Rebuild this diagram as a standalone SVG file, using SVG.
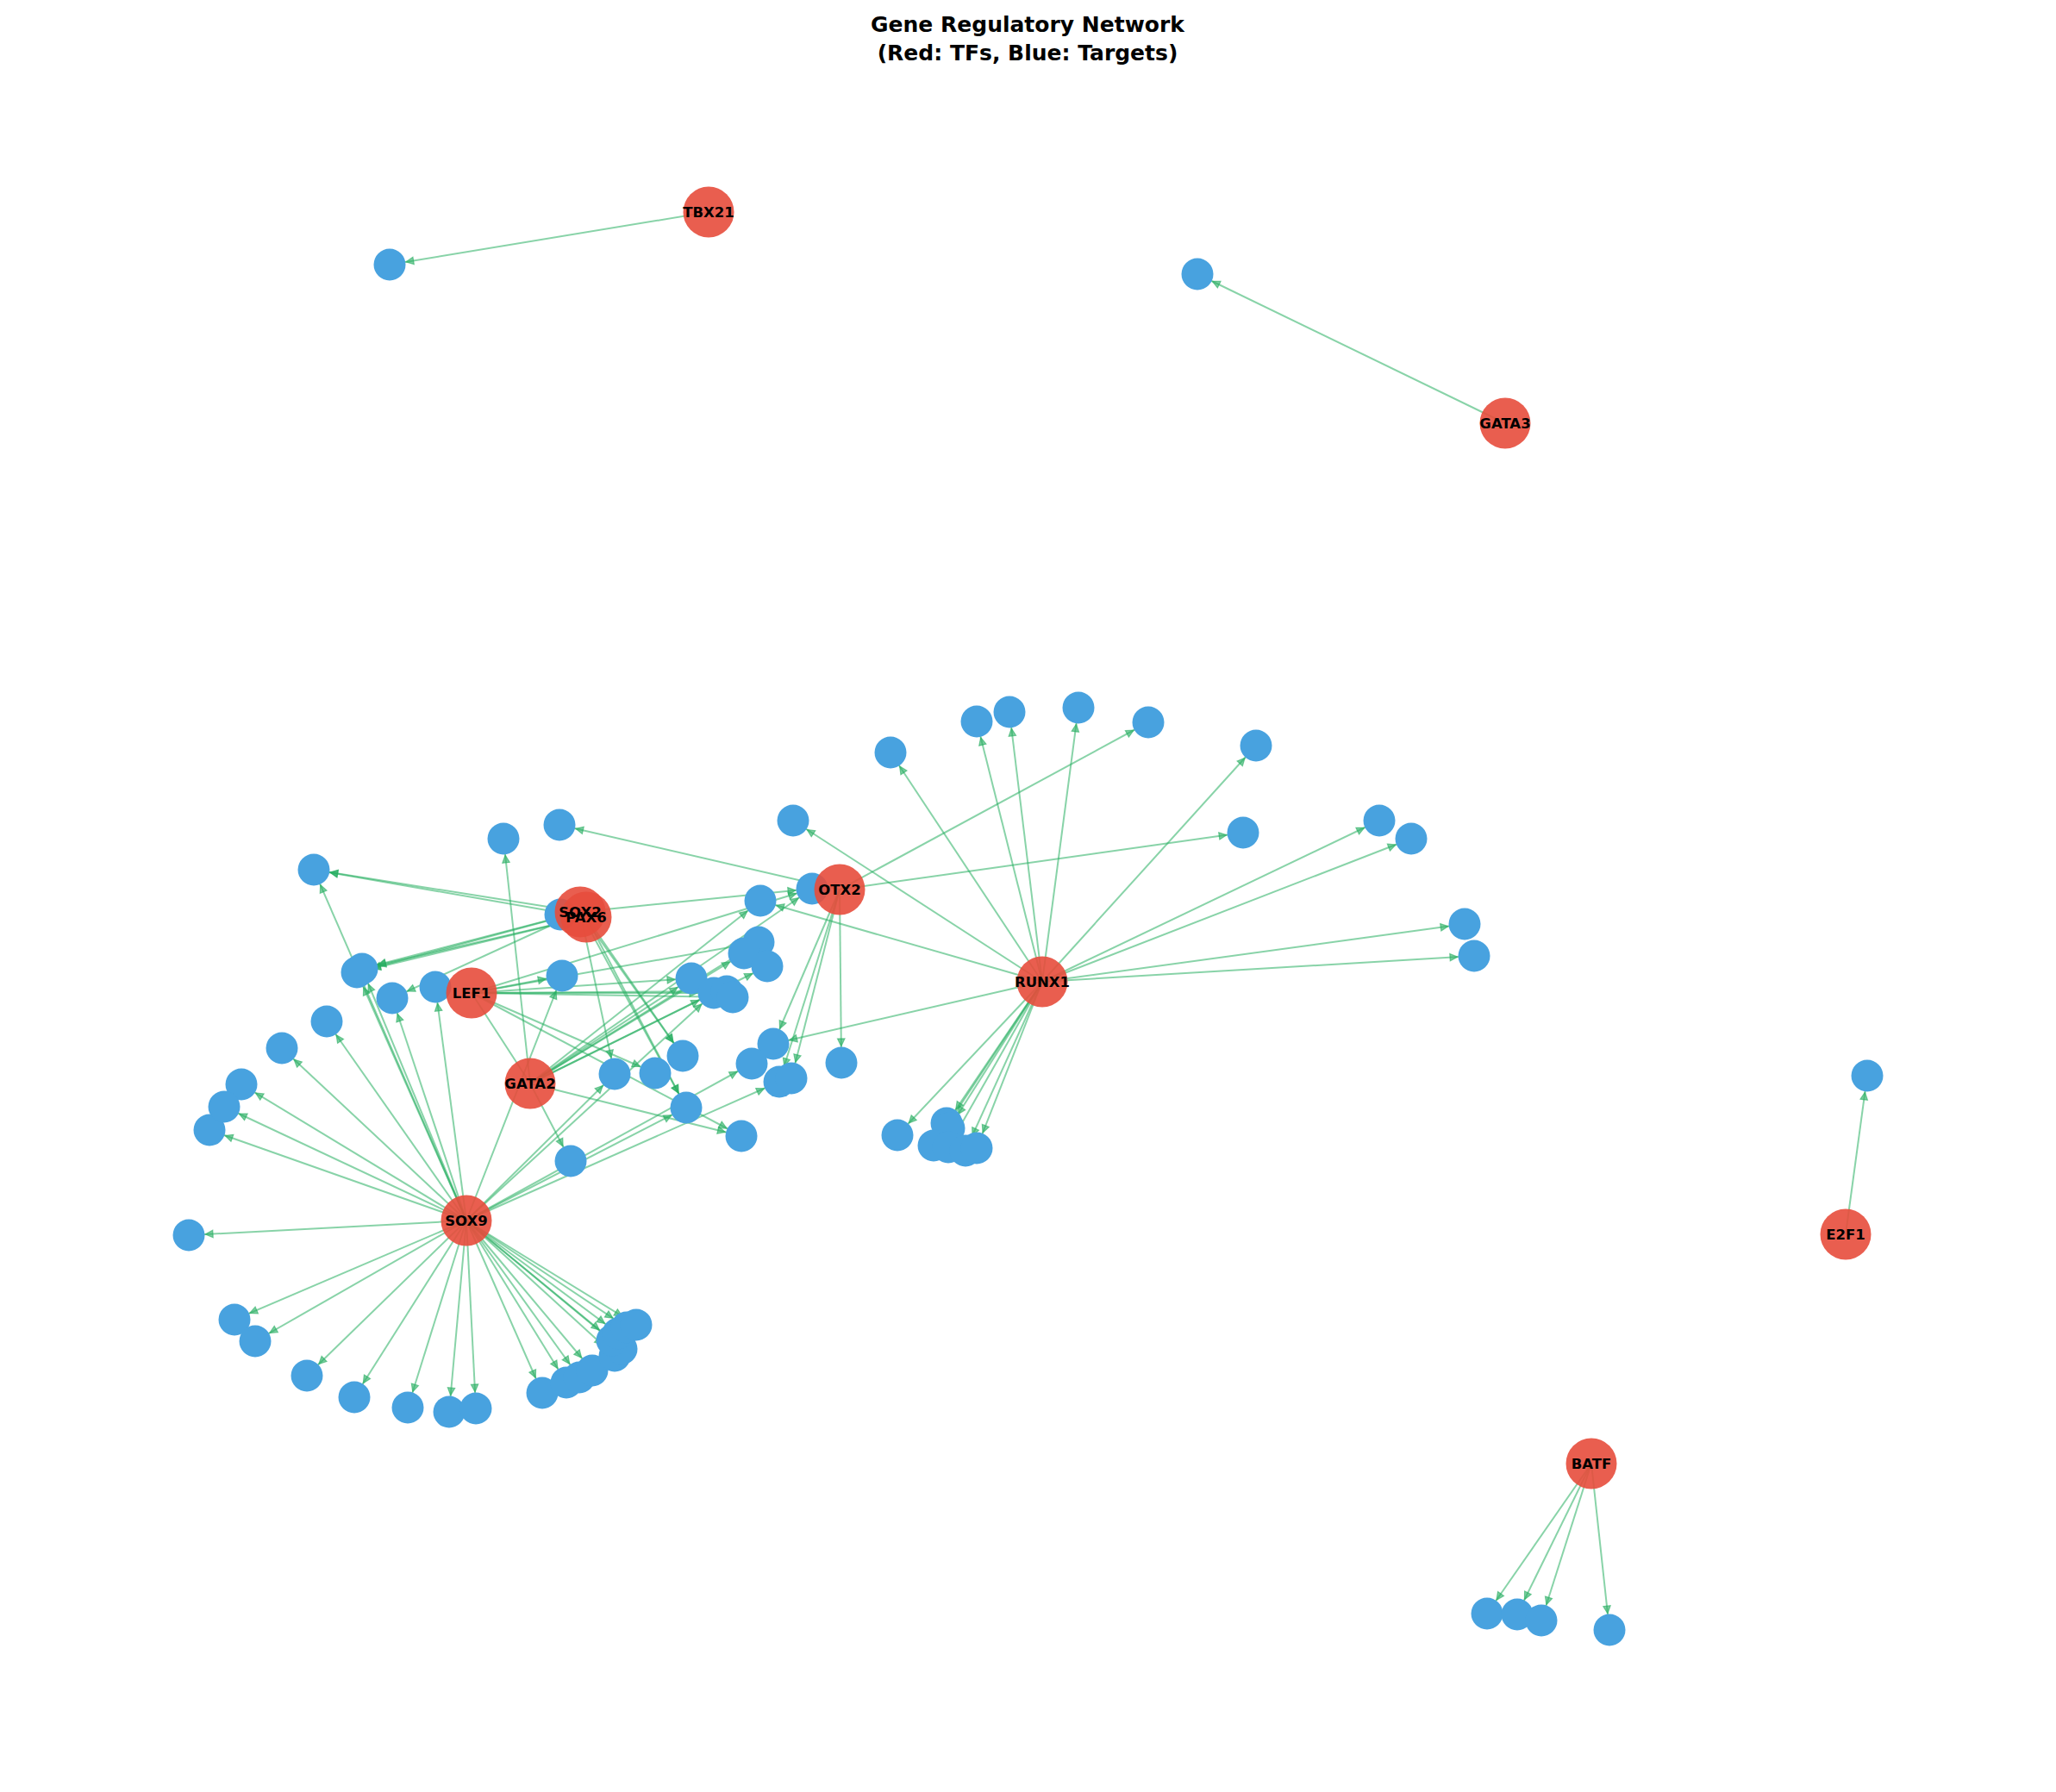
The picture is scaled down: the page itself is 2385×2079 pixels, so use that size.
<svg xmlns="http://www.w3.org/2000/svg" width="2385" height="2079" viewBox="0 0 2385 2079">
<style>
.e{stroke:#27ae60;stroke-opacity:0.55;stroke-width:2;fill:none;marker-end:url(#ah)}
.p{stroke:#27ae60;stroke-opacity:0.55;stroke-width:2;fill:none}
.t{fill:#48a2df}
.tf{fill:#e74c3c;fill-opacity:0.9}
.lb{font-family:'DejaVu Sans','Liberation Sans',sans-serif;font-weight:bold;font-size:16.5px;text-anchor:middle;fill:#000}
.ti{font-family:'DejaVu Sans','Liberation Sans',sans-serif;font-weight:bold;font-size:25px;text-anchor:middle;fill:#000}
</style>
<defs>
<marker id="ah" markerUnits="userSpaceOnUse" viewBox="0 -6 40 12" markerWidth="40" markerHeight="12" refX="28" refY="0" orient="auto" overflow="visible">
<path d="M0,-4.2 L8.8,0 L0,4.2 Z" fill="#27ae60" fill-opacity="0.6" stroke="#27ae60" stroke-opacity="0.6" stroke-width="1.2"/>
</marker>
</defs>
<rect width="2385" height="2079" fill="#fff"/>
<g id="title">
<text class="ti" x="1192" y="37">Gene Regulatory Network</text>
<text class="ti" x="1192" y="70">(Red: TFs, Blue: Targets)</text>
</g>
<g id="edges">
<line class="e" x1="822" y1="246" x2="452" y2="307"/>
<line class="e" x1="1746" y1="491" x2="1389" y2="318"/>
<line class="e" x1="2141" y1="1432" x2="2166" y2="1248"/>
<line class="e" x1="1846" y1="1698" x2="1725" y2="1872"/>
<line class="e" x1="1846" y1="1698" x2="1760" y2="1873"/>
<line class="e" x1="1846" y1="1698" x2="1788" y2="1880"/>
<line class="e" x1="1846" y1="1698" x2="1867" y2="1891"/>
<line class="e" x1="1209" y1="1139" x2="1033" y2="873"/>
<line class="e" x1="1209" y1="1139" x2="1133" y2="837"/>
<line class="e" x1="1209" y1="1139" x2="1171" y2="826"/>
<line class="e" x1="1209" y1="1139" x2="1251" y2="821"/>
<line class="e" x1="1209" y1="1139" x2="1457" y2="865"/>
<line class="e" x1="1209" y1="1139" x2="1600" y2="952"/>
<line class="e" x1="1209" y1="1139" x2="1637" y2="973"/>
<line class="e" x1="1209" y1="1139" x2="1699" y2="1072"/>
<line class="e" x1="1209" y1="1139" x2="1710" y2="1109"/>
<line class="e" x1="1209" y1="1139" x2="920" y2="952"/>
<line class="e" x1="1209" y1="1139" x2="882" y2="1045"/>
<line class="e" x1="1209" y1="1139" x2="897" y2="1211"/>
<line class="e" x1="1209" y1="1139" x2="1041" y2="1317"/>
<line class="e" x1="1209" y1="1139" x2="1098" y2="1303"/>
<line class="e" x1="1209" y1="1139" x2="1101" y2="1309"/>
<line class="e" x1="1209" y1="1139" x2="1083" y2="1329"/>
<line class="e" x1="1209" y1="1139" x2="1100" y2="1331"/>
<line class="e" x1="1209" y1="1139" x2="1120" y2="1335"/>
<line class="e" x1="1209" y1="1139" x2="1133" y2="1332"/>
<line class="e" x1="974" y1="1032" x2="649" y2="957"/>
<line class="e" x1="974" y1="1032" x2="1332" y2="838"/>
<line class="e" x1="974" y1="1032" x2="1442" y2="966"/>
<line class="e" x1="974" y1="1032" x2="976" y2="1233"/>
<line class="e" x1="974" y1="1032" x2="904" y2="1255"/>
<line class="e" x1="974" y1="1032" x2="918" y2="1251"/>
<line class="e" x1="974" y1="1032" x2="897" y2="1211"/>
<line class="e" x1="673" y1="1058" x2="364" y2="1009"/>
<line class="e" x1="673" y1="1058" x2="414" y2="1128"/>
<line class="e" x1="673" y1="1058" x2="420" y2="1124"/>
<line class="e" x1="673" y1="1058" x2="455" y2="1158"/>
<line class="e" x1="673" y1="1058" x2="942" y2="1031"/>
<line class="e" x1="673" y1="1058" x2="713" y2="1246"/>
<line class="e" x1="673" y1="1058" x2="792" y2="1225"/>
<line class="e" x1="673" y1="1058" x2="796" y2="1285"/>
<line class="e" x1="680" y1="1064" x2="364" y2="1009"/>
<line class="e" x1="680" y1="1064" x2="414" y2="1128"/>
<line class="e" x1="680" y1="1064" x2="420" y2="1124"/>
<line class="e" x1="680" y1="1064" x2="796" y2="1285"/>
<line class="e" x1="680" y1="1064" x2="792" y2="1225"/>
<line class="e" x1="547" y1="1152" x2="652" y2="1132"/>
<line class="e" x1="547" y1="1152" x2="802" y2="1135"/>
<line class="e" x1="547" y1="1152" x2="828" y2="1152"/>
<line class="e" x1="547" y1="1152" x2="843" y2="1150"/>
<line class="e" x1="547" y1="1152" x2="850" y2="1157"/>
<line class="e" x1="547" y1="1152" x2="880" y2="1093"/>
<line class="e" x1="547" y1="1152" x2="942" y2="1031"/>
<line class="e" x1="547" y1="1152" x2="760" y2="1245"/>
<line class="e" x1="547" y1="1152" x2="860" y2="1318"/>
<line class="p" x1="547" y1="1152" x2="615" y2="1257"/>
<line class="e" x1="615" y1="1257" x2="584" y2="973"/>
<line class="e" x1="615" y1="1257" x2="662" y2="1347"/>
<line class="e" x1="615" y1="1257" x2="860" y2="1318"/>
<line class="e" x1="615" y1="1257" x2="802" y2="1135"/>
<line class="e" x1="615" y1="1257" x2="828" y2="1152"/>
<line class="e" x1="615" y1="1257" x2="863" y2="1106"/>
<line class="e" x1="615" y1="1257" x2="880" y2="1093"/>
<line class="e" x1="615" y1="1257" x2="890" y2="1121"/>
<line class="e" x1="615" y1="1257" x2="882" y2="1045"/>
<line class="e" x1="615" y1="1257" x2="942" y2="1031"/>
<line class="e" x1="541" y1="1416" x2="364" y2="1009"/>
<line class="e" x1="541" y1="1416" x2="414" y2="1128"/>
<line class="e" x1="541" y1="1416" x2="420" y2="1124"/>
<line class="e" x1="541" y1="1416" x2="455" y2="1158"/>
<line class="e" x1="541" y1="1416" x2="505" y2="1145"/>
<line class="e" x1="541" y1="1416" x2="379" y2="1185"/>
<line class="e" x1="541" y1="1416" x2="327" y2="1216"/>
<line class="e" x1="541" y1="1416" x2="280" y2="1258"/>
<line class="e" x1="541" y1="1416" x2="260" y2="1284"/>
<line class="e" x1="541" y1="1416" x2="243" y2="1311"/>
<line class="e" x1="541" y1="1416" x2="219" y2="1433"/>
<line class="e" x1="541" y1="1416" x2="272" y2="1531"/>
<line class="e" x1="541" y1="1416" x2="296" y2="1556"/>
<line class="e" x1="541" y1="1416" x2="356" y2="1596"/>
<line class="e" x1="541" y1="1416" x2="411" y2="1621"/>
<line class="e" x1="541" y1="1416" x2="473" y2="1633"/>
<line class="e" x1="541" y1="1416" x2="521" y2="1638"/>
<line class="e" x1="541" y1="1416" x2="552" y2="1634"/>
<line class="e" x1="541" y1="1416" x2="629" y2="1616"/>
<line class="e" x1="541" y1="1416" x2="657" y2="1604"/>
<line class="e" x1="541" y1="1416" x2="672" y2="1598"/>
<line class="e" x1="541" y1="1416" x2="687" y2="1590"/>
<line class="e" x1="541" y1="1416" x2="713" y2="1573"/>
<line class="e" x1="541" y1="1416" x2="721" y2="1565"/>
<line class="e" x1="541" y1="1416" x2="710" y2="1555"/>
<line class="e" x1="541" y1="1416" x2="717" y2="1547"/>
<line class="e" x1="541" y1="1416" x2="727" y2="1540"/>
<line class="e" x1="541" y1="1416" x2="738" y2="1537"/>
<line class="e" x1="541" y1="1416" x2="713" y2="1246"/>
<line class="e" x1="541" y1="1416" x2="796" y2="1285"/>
<line class="e" x1="541" y1="1416" x2="872" y2="1234"/>
<line class="e" x1="541" y1="1416" x2="904" y2="1255"/>
<line class="e" x1="541" y1="1416" x2="652" y2="1132"/>
<line class="e" x1="541" y1="1416" x2="828" y2="1152"/>
</g>
<g id="targets">
<g id="t1"><circle class="t" cx="452" cy="307" r="18.5"/></g>
<g id="t2"><circle class="t" cx="1389" cy="318" r="18.5"/></g>
<g id="t3"><circle class="t" cx="2166" cy="1248" r="18.5"/></g>
<g id="t4"><circle class="t" cx="1725" cy="1872" r="18.5"/></g>
<g id="t5"><circle class="t" cx="1760" cy="1873" r="18.5"/></g>
<g id="t6"><circle class="t" cx="1788" cy="1880" r="18.5"/></g>
<g id="t7"><circle class="t" cx="1867" cy="1891" r="18.5"/></g>
<g id="t8"><circle class="t" cx="1033" cy="873" r="18.5"/></g>
<g id="t9"><circle class="t" cx="1133" cy="837" r="18.5"/></g>
<g id="t10"><circle class="t" cx="1171" cy="826" r="18.5"/></g>
<g id="t11"><circle class="t" cx="1251" cy="821" r="18.5"/></g>
<g id="t12"><circle class="t" cx="1457" cy="865" r="18.5"/></g>
<g id="t13"><circle class="t" cx="1600" cy="952" r="18.5"/></g>
<g id="t14"><circle class="t" cx="1637" cy="973" r="18.5"/></g>
<g id="t15"><circle class="t" cx="1699" cy="1072" r="18.5"/></g>
<g id="t16"><circle class="t" cx="1710" cy="1109" r="18.5"/></g>
<g id="t17"><circle class="t" cx="920" cy="952" r="18.5"/></g>
<g id="t18"><circle class="t" cx="882" cy="1045" r="18.5"/></g>
<g id="t19"><circle class="t" cx="897" cy="1211" r="18.5"/></g>
<g id="t20"><circle class="t" cx="1041" cy="1317" r="18.5"/></g>
<g id="t21"><circle class="t" cx="1098" cy="1303" r="18.5"/></g>
<g id="t22"><circle class="t" cx="1101" cy="1309" r="18.5"/></g>
<g id="t23"><circle class="t" cx="1083" cy="1329" r="18.5"/></g>
<g id="t24"><circle class="t" cx="1100" cy="1331" r="18.5"/></g>
<g id="t25"><circle class="t" cx="1120" cy="1335" r="18.5"/></g>
<g id="t26"><circle class="t" cx="1133" cy="1332" r="18.5"/></g>
<g id="t27"><circle class="t" cx="649" cy="957" r="18.5"/></g>
<g id="t28"><circle class="t" cx="1332" cy="838" r="18.5"/></g>
<g id="t29"><circle class="t" cx="1442" cy="966" r="18.5"/></g>
<g id="t30"><circle class="t" cx="976" cy="1233" r="18.5"/></g>
<g id="t31"><circle class="t" cx="904" cy="1255" r="18.5"/></g>
<g id="t32"><circle class="t" cx="918" cy="1251" r="18.5"/></g>
<g id="t33"><circle class="t" cx="942" cy="1031" r="18.5"/></g>
<g id="t34"><circle class="t" cx="364" cy="1009" r="18.5"/></g>
<g id="t35"><circle class="t" cx="584" cy="973" r="18.5"/></g>
<g id="t36"><circle class="t" cx="414" cy="1128" r="18.5"/></g>
<g id="t37"><circle class="t" cx="420" cy="1124" r="18.5"/></g>
<g id="t38"><circle class="t" cx="455" cy="1158" r="18.5"/></g>
<g id="t39"><circle class="t" cx="505" cy="1145" r="18.5"/></g>
<g id="t40"><circle class="t" cx="652" cy="1132" r="18.5"/></g>
<g id="t41"><circle class="t" cx="379" cy="1185" r="18.5"/></g>
<g id="t42"><circle class="t" cx="327" cy="1216" r="18.5"/></g>
<g id="t43"><circle class="t" cx="713" cy="1246" r="18.5"/></g>
<g id="t44"><circle class="t" cx="760" cy="1245" r="18.5"/></g>
<g id="t45"><circle class="t" cx="792" cy="1225" r="18.5"/></g>
<g id="t46"><circle class="t" cx="796" cy="1285" r="18.5"/></g>
<g id="t47"><circle class="t" cx="662" cy="1347" r="18.5"/></g>
<g id="t48"><circle class="t" cx="860" cy="1318" r="18.5"/></g>
<g id="t49"><circle class="t" cx="802" cy="1135" r="18.5"/></g>
<g id="t50"><circle class="t" cx="828" cy="1152" r="18.5"/></g>
<g id="t51"><circle class="t" cx="843" cy="1150" r="18.5"/></g>
<g id="t52"><circle class="t" cx="850" cy="1157" r="18.5"/></g>
<g id="t53"><circle class="t" cx="880" cy="1093" r="18.5"/></g>
<g id="t54"><circle class="t" cx="863" cy="1106" r="18.5"/></g>
<g id="t55"><circle class="t" cx="890" cy="1121" r="18.5"/></g>
<g id="t56"><circle class="t" cx="872" cy="1234" r="18.5"/></g>
<g id="t57"><circle class="t" cx="243" cy="1311" r="18.5"/></g>
<g id="t58"><circle class="t" cx="219" cy="1433" r="18.5"/></g>
<g id="t59"><circle class="t" cx="272" cy="1531" r="18.5"/></g>
<g id="t60"><circle class="t" cx="296" cy="1556" r="18.5"/></g>
<g id="t61"><circle class="t" cx="356" cy="1596" r="18.5"/></g>
<g id="t62"><circle class="t" cx="411" cy="1621" r="18.5"/></g>
<g id="t63"><circle class="t" cx="473" cy="1633" r="18.5"/></g>
<g id="t64"><circle class="t" cx="521" cy="1638" r="18.5"/></g>
<g id="t65"><circle class="t" cx="552" cy="1634" r="18.5"/></g>
<g id="t66"><circle class="t" cx="629" cy="1616" r="18.5"/></g>
<g id="t67"><circle class="t" cx="657" cy="1604" r="18.5"/></g>
<g id="t68"><circle class="t" cx="672" cy="1598" r="18.5"/></g>
<g id="t69"><circle class="t" cx="687" cy="1590" r="18.5"/></g>
<g id="t70"><circle class="t" cx="713" cy="1573" r="18.5"/></g>
<g id="t71"><circle class="t" cx="721" cy="1565" r="18.5"/></g>
<g id="t72"><circle class="t" cx="710" cy="1555" r="18.5"/></g>
<g id="t73"><circle class="t" cx="717" cy="1547" r="18.5"/></g>
<g id="t74"><circle class="t" cx="727" cy="1540" r="18.5"/></g>
<g id="t75"><circle class="t" cx="738" cy="1537" r="18.5"/></g>
<g id="t76"><circle class="t" cx="280" cy="1258" r="18.5"/></g>
<g id="t77"><circle class="t" cx="260" cy="1284" r="18.5"/></g>
<g id="t78"><circle class="t" cx="650" cy="1061" r="18.5"/></g>
</g>
<g id="tfs">
<g id="TBX21"><circle class="tf" cx="822" cy="246" r="29.5"/></g>
<g id="GATA3"><circle class="tf" cx="1746" cy="491" r="29.5"/></g>
<g id="SOX2"><circle class="tf" cx="673" cy="1058" r="29.5"/></g>
<g id="PAX6"><circle class="tf" cx="680" cy="1064" r="29.5"/></g>
<g id="LEF1"><circle class="tf" cx="547" cy="1152" r="29.5"/></g>
<g id="GATA2"><circle class="tf" cx="615" cy="1257" r="29.5"/></g>
<g id="OTX2"><circle class="tf" cx="974" cy="1032" r="29.5"/></g>
<g id="RUNX1"><circle class="tf" cx="1209" cy="1139" r="29.5"/></g>
<g id="SOX9"><circle class="tf" cx="541" cy="1416" r="29.5"/></g>
<g id="E2F1"><circle class="tf" cx="2141" cy="1432" r="29.5"/></g>
<g id="BATF"><circle class="tf" cx="1846" cy="1698" r="29.5"/></g>
</g>
<g id="labels">
<text class="lb" x="822" y="252">TBX21</text>
<text class="lb" x="1746" y="497">GATA3</text>
<text class="lb" x="673" y="1064">SOX2</text>
<text class="lb" x="680" y="1070">PAX6</text>
<text class="lb" x="547" y="1158">LEF1</text>
<text class="lb" x="615" y="1263">GATA2</text>
<text class="lb" x="974" y="1038">OTX2</text>
<text class="lb" x="1209" y="1145">RUNX1</text>
<text class="lb" x="541" y="1422">SOX9</text>
<text class="lb" x="2141" y="1438">E2F1</text>
<text class="lb" x="1846" y="1704">BATF</text>
</g>
</svg>
